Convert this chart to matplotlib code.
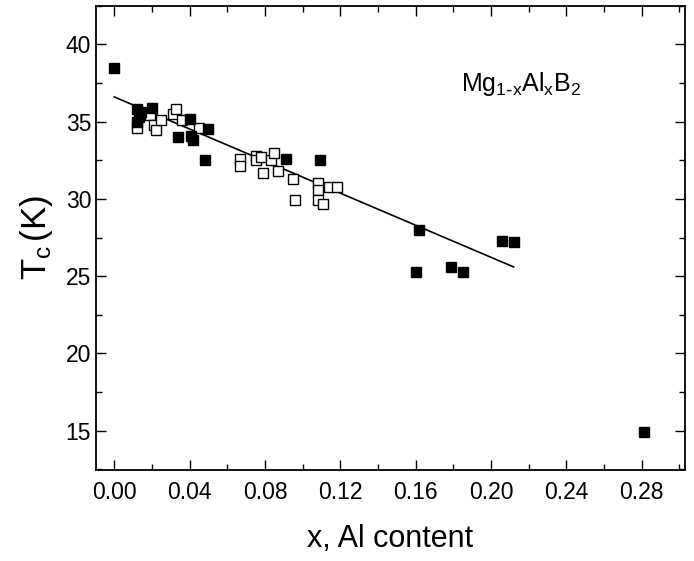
import matplotlib
matplotlib.use("Agg")
import matplotlib.pyplot as plt
from matplotlib.ticker import MultipleLocator

plt.rcParams['font.family'] = ['Liberation Sans', 'DejaVu Sans']
plt.rcParams['mathtext.default'] = 'regular'

# filled squares
x_filled = [0.000, 0.012, 0.013, 0.014, 0.012, 0.020, 0.034, 0.040, 0.041, 0.042,
            0.048, 0.050, 0.091, 0.109, 0.160, 0.162, 0.179, 0.185, 0.206, 0.212, 0.281]
t_filled = [38.5, 35.8, 35.3, 35.6, 35.0, 35.9, 34.0, 35.2, 34.1, 33.8,
            32.5, 34.5, 32.6, 32.5, 25.3, 28.0, 25.6, 25.3, 27.3, 27.2, 14.9]

# open squares
x_open = [0.012, 0.019, 0.021, 0.022, 0.025, 0.031, 0.033, 0.036, 0.045,
          0.067, 0.067, 0.075, 0.075, 0.078, 0.079, 0.083, 0.085, 0.087,
          0.095, 0.096, 0.108, 0.108, 0.108, 0.111, 0.114, 0.118]
t_open = [34.6, 35.4, 34.8, 34.45, 35.1, 35.5, 35.8, 35.1, 34.6,
          32.6, 32.1, 32.8, 32.5, 32.7, 31.7, 32.5, 32.95, 31.8,
          31.3, 29.95, 31.05, 30.55, 29.95, 29.7, 30.8, 30.75]

# linear fit line
fit_x = [0.000, 0.212]
fit_t = [36.6, 25.6]

fig = plt.figure(figsize=(6.94, 5.61), dpi=100)
ax = fig.add_axes([0.1383, 0.1622, 0.987 - 0.1383, 0.9898 - 0.1622])

ax.plot(fit_x, fit_t, color='black', lw=1.2)
ax.plot(x_open, t_open, 's', ms=7.5, mfc='white', mec='black', mew=1.0, ls='none')
ax.plot(x_filled, t_filled, 's', ms=7.5, mfc='black', mec='black', ls='none')

ax.set_xlim(-0.0097, 0.303)
ax.set_ylim(12.46, 42.5)
ax.xaxis.set_major_locator(MultipleLocator(0.04))
ax.xaxis.set_minor_locator(MultipleLocator(0.02))
ax.yaxis.set_major_locator(MultipleLocator(5))
ax.yaxis.set_minor_locator(MultipleLocator(2.5))
ax.xaxis.set_major_formatter(plt.FormatStrFormatter('%.2f'))

ax.tick_params(which='both', direction='in', top=True, right=True, width=1.0, labelsize=16.5)
ax.tick_params(which='major', length=7)
ax.tick_params(which='minor', length=4)
ax.tick_params(axis='x', pad=8)
for s in ax.spines.values():
    s.set_linewidth(1.3)

ax.set_xlabel('x, Al content', fontsize=22, labelpad=14)
ax.set_ylabel(r'$T_{c\,}$(K)', fontsize=25, labelpad=8)

ax.text(0.184, 37.0, r'$Mg_{1\text{-}x}Al_xB_2$', fontsize=18)

fig.savefig('out.png', dpi=100)
